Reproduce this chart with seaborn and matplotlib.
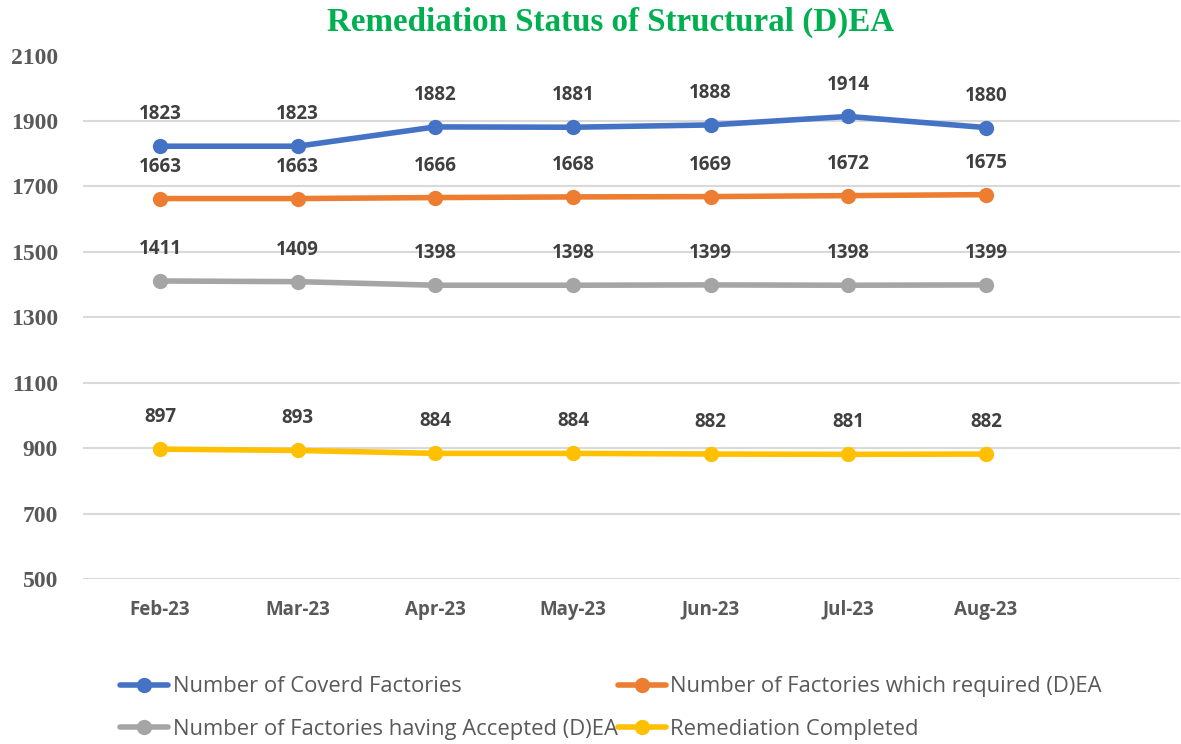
import matplotlib
matplotlib.use("Agg")
import matplotlib.pyplot as plt
import seaborn as sns
import pandas as pd

months = ["Feb-23", "Mar-23", "Apr-23", "May-23", "Jun-23", "Jul-23", "Aug-23"]
covered = [1823, 1823, 1882, 1881, 1888, 1914, 1880]
required = [1663, 1663, 1666, 1668, 1669, 1672, 1675]
accepted = [1411, 1409, 1398, 1398, 1399, 1398, 1399]
completed = [897, 893, 884, 884, 882, 881, 882]

series_names = [
    "Number of Coverd Factories",
    "Number of Factories which required (D)EA",
    "Number of Factories having Accepted (D)EA",
    "Remediation Completed",
]
series_values = [covered, required, accepted, completed]
colors = ["#4472C4", "#ED7D31", "#A5A5A5", "#FFC000"]

rows = []
for name, vals in zip(series_names, series_values):
    for m, v in zip(months, vals):
        rows.append({"Month": m, "Value": v, "Series": name})
df = pd.DataFrame(rows)

sns.set_theme(style="white")
plt.rcParams['font.family'] = ['Open Sans', 'DejaVu Sans']

fig = plt.figure(figsize=(11.81, 7.44), dpi=100)
ax = fig.add_axes([83 / 1181, 1 - 579 / 744, (1180 - 83) / 1181, (579 - 55.6) / 744])

sns.lineplot(data=df, x="Month", y="Value", hue="Series", hue_order=series_names,
             palette=colors, marker="o", markersize=11, markeredgewidth=0,
             linewidth=4, ax=ax, legend=False, sort=False)

for vals in series_values:
    for i, v in enumerate(vals):
        ax.annotate(f"{v}", (i, v), xytext=(0, 23), textcoords="offset points",
                    ha="center", va="center", fontsize=13.5, fontweight="bold",
                    color="#404040")

ax.set_xlim(-0.56, 7.41)
ax.set_ylim(500, 2100)
ax.set_yticks(range(500, 2101, 200))
ax.yaxis.grid(True, color="#D9D9D9", linewidth=1.5)
ax.set_axisbelow(True)
for s in ax.spines.values():
    s.set_visible(False)
ax.set_xlabel("")
ax.set_ylabel("")
ax.tick_params(axis="x", length=0, pad=15, labelsize=13.5, labelcolor="#595959")
ax.tick_params(axis="y", length=0, pad=18, labelcolor="#595959")
for lab in ax.get_xticklabels():
    lab.set_fontweight("bold")
for lab in ax.get_yticklabels():
    lab.set_fontfamily("Liberation Serif")
    lab.set_fontweight("bold")
    lab.set_fontsize(17)
gl = ax.get_ygridlines()
gl[-1].set_visible(False)

fig.text(611 / 1181, 1 - 22 / 744, "Remediation Status of Structural (D)EA",
         ha="center", va="center", fontsize=23.8, fontweight="bold",
         color="#00B050", family="Liberation Serif")

handles = [plt.Line2D([], [], color=c, linewidth=4, marker="o", markersize=11,
                      markeredgewidth=0) for c in colors]
order = [0, 2, 1, 3]
leg = fig.legend([handles[i] for i in order], [series_names[i] for i in order],
                 ncol=2, loc="center left", bbox_to_anchor=(120 / 1181, 1 - 708 / 744),
                 frameon=False, fontsize=15.8, handlelength=2.2, handletextpad=0.2,
                 columnspacing=0.0, labelspacing=0.97, borderaxespad=0, borderpad=0)
for t in leg.get_texts():
    t.set_color("#595959")

fig.savefig("out.png", dpi=100)
